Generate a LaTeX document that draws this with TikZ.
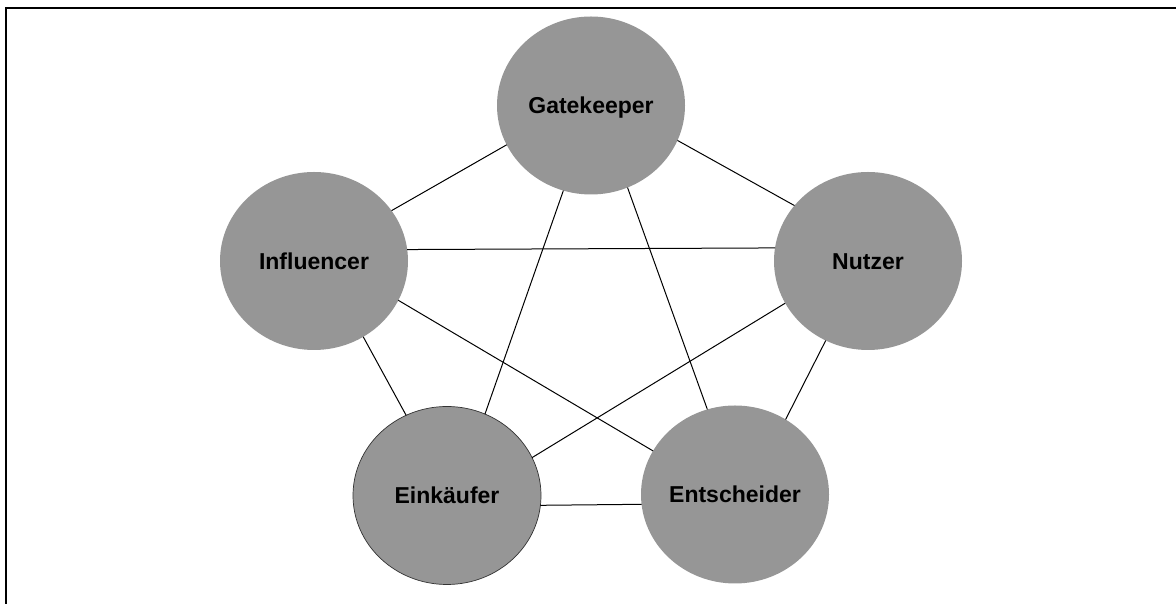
\documentclass[tikz,border=0pt]{standalone}
\usepackage{fontspec}
\setmainfont{Liberation Sans}
\usetikzlibrary{shapes.geometric}
\definecolor{rolefill}{RGB}{150,150,150}
\tikzset{
  role/.style={ellipse, fill=rolefill, minimum width=188pt, minimum height=178pt,
    inner sep=0pt, outer sep=0pt, text height=16.5pt, text depth=0pt,
    font=\fontsize{23}{26}\selectfont\bfseries},
  link/.style={draw=black, line width=1pt},
  frame/.style={draw=black, line width=2.2pt}
}
\begin{document}
\begin{tikzpicture}[x=1pt,y=1pt]
  \useasboundingbox (0,0) rectangle (1176,604);
  % outer frame (top and left edges)
  \draw[frame] (6,0) -- (6,596.2) -- (1176,596.2);

  % buying centre roles
  \node[role] (gk)  at (591,498.5) {Gatekeeper};
  \node[role] (inf) at (314,343)   {Influencer};
  \node[role] (nu)  at (868,343)   {Nutzer};
  \node[role, draw=black!80, line width=0.7pt] (ein) at (447,108.5) {Einkäufer};
  \node[role] (ent) at (735,109.5) {Entscheider};

  % every role is linked with every other role
  \draw[link] (inf.33)    -- (gk.205.2);
  \draw[link] (gk.338.4)  -- (nu.143.3);
  \draw[link] (inf.7.4)   -- (nu.172.6);
  \draw[link] (gk.252.1)  -- (ein.65.3);
  \draw[link] (gk.294.7)  -- (ent.108.1);
  \draw[link] (inf.303.3) -- (ein.117.3);
  \draw[link] (inf.335.9) -- (ent.152.9);
  \draw[link] (nu.207.4)  -- (ein.24.7);
  \draw[link] (nu.242.6)  -- (ent.56.3);
  \draw[link] (ein.354)   -- (ent.186.7);
\end{tikzpicture}
\end{document}
